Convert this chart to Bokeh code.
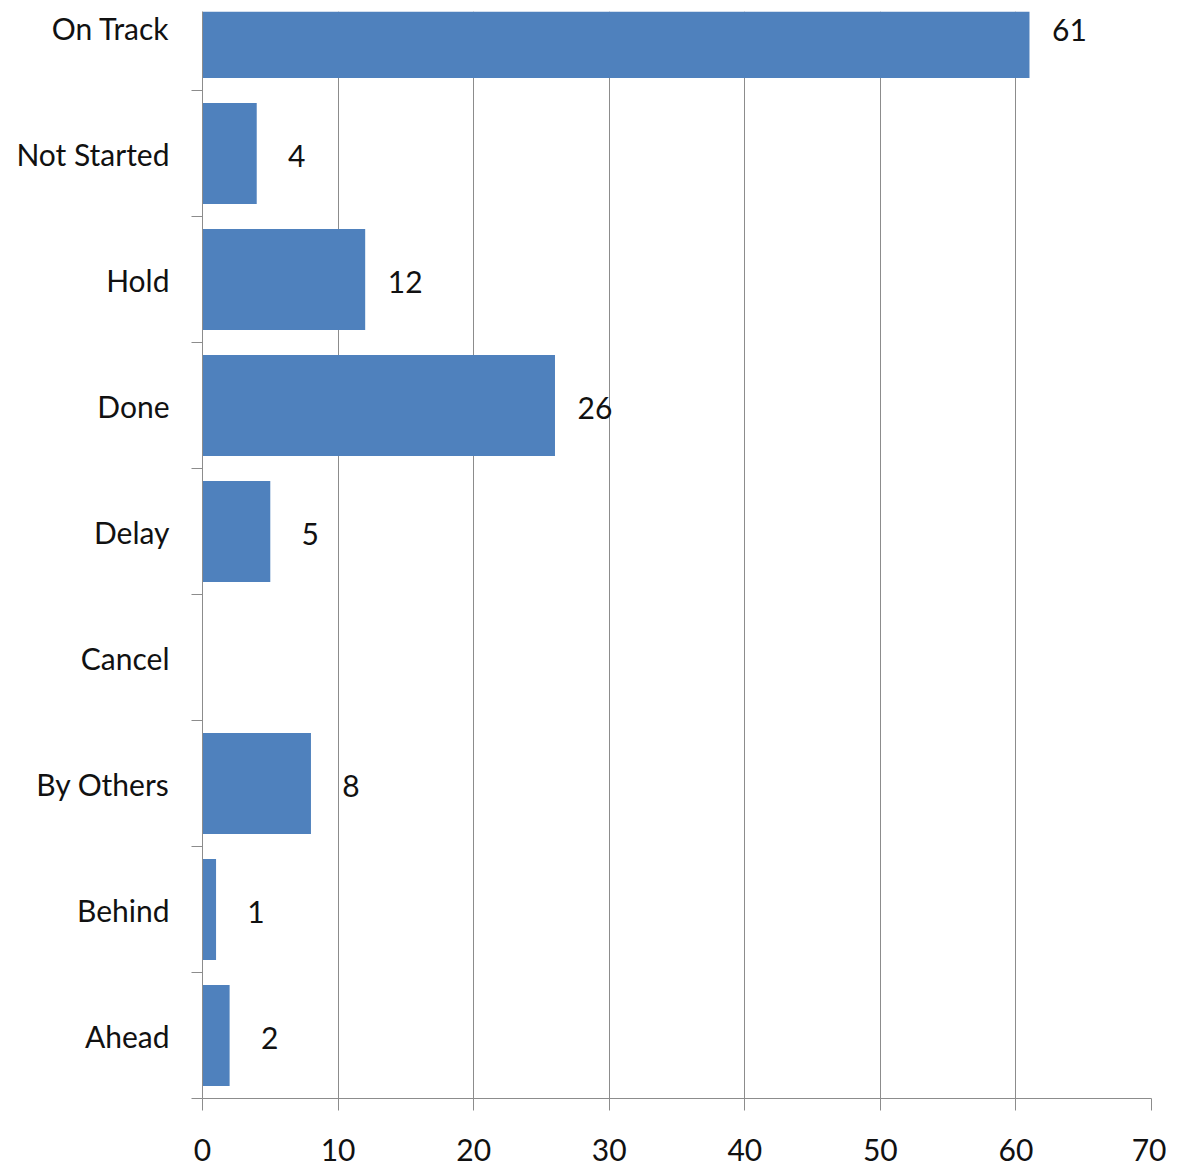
from bokeh.plotting import figure
from bokeh.models import ColumnDataSource, FixedTicker, Range1d
from bokeh.core.properties import value
from bokeh.embed import file_html
from bokeh.resources import INLINE

# ---- data (top to bottom as shown) ----
categories = ["On Track", "Not Started", "Hold", "Done", "Delay",
              "Cancel", "By Others", "Behind", "Ahead"]
counts = [61, 4, 12, 26, 5, None, 8, 1, 2]
x_ticks = [0, 10, 20, 30, 40, 50, 60, 70]

n = len(categories)
ypos = [n - 1 - i for i in range(n)]

bar_y = [y for y, c in zip(ypos, counts) if c is not None]
bar_x = [c for c in counts if c is not None]
src = ColumnDataSource(dict(y=bar_y, x=bar_x, label=[str(c) for c in bar_x]))

FONT = "Lato"
GREY = "#8c8c8c"
TXT = "#111111"

p = figure(width=1166, height=1172, output_backend="svg", toolbar_location=None,
           x_range=Range1d(0, 70), y_range=Range1d(-0.5, 8.127),
           min_border_left=202, min_border_right=15, min_border_top=11,
           min_border_bottom=74)
p.outline_line_color = None
p.background_fill_color = "white"

p.hbar(y="y", left=0, right="x", height=0.8, source=src,
       fill_color="#4F81BD", line_color=None)
p.text(x="x", y="y", text="label", source=src, x_offset=40, y_offset=2,
       text_align="center", text_baseline="middle",
       text_font=value(FONT), text_font_size="30px", text_color=TXT)

# y axis (categories)
p.yaxis.ticker = FixedTicker(ticks=ypos, minor_ticks=[k - 0.5 for k in range(n + 1)])
p.yaxis.major_label_overrides = {y: c for y, c in zip(ypos, categories)}
p.yaxis.major_tick_out = 0
p.yaxis.major_tick_in = 0
p.yaxis.minor_tick_out = 11
p.yaxis.minor_tick_in = 0
p.yaxis.minor_tick_line_color = GREY
p.yaxis.axis_line_color = GREY
p.yaxis.major_label_standoff = 22
p.yaxis.major_label_text_font = FONT
p.yaxis.major_label_text_font_size = "30px"
p.yaxis.major_label_text_color = TXT

# x axis
p.xaxis.ticker = FixedTicker(ticks=x_ticks)
p.xaxis.major_tick_out = 12
p.xaxis.major_tick_in = 0
p.xaxis.minor_tick_out = 0
p.xaxis.minor_tick_in = 0
p.xaxis.major_tick_line_color = GREY
p.xaxis.axis_line_color = GREY
p.xaxis.major_label_standoff = 28
p.xaxis.major_label_text_font = FONT
p.xaxis.major_label_text_font_size = "30px"
p.xaxis.major_label_text_color = TXT

p.ygrid.visible = False
p.xgrid.ticker = FixedTicker(ticks=x_ticks[1:])
p.xgrid.grid_line_color = GREY
p.xgrid.grid_line_width = 1

open("out.html", "w").write(file_html(p, INLINE))
